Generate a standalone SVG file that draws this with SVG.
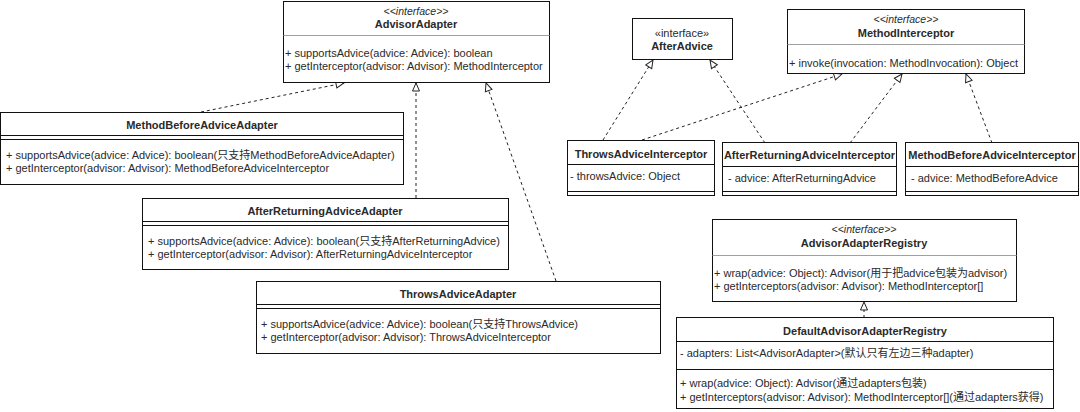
<svg xmlns="http://www.w3.org/2000/svg" width="1080" height="412" viewBox="0 0 1080 412">
<style>
.box{fill:#fff;stroke:#111;stroke-width:1}
.sep{stroke:#111;stroke-width:1}
.lsep{stroke:#a0a0a0;stroke-width:1}
text{font-family:"Liberation Sans","Noto Sans CJK SC",sans-serif;font-size:11px;fill:#2a2a2a}
.t{font-weight:bold;text-anchor:middle}
.st{font-style:italic;text-anchor:middle;font-size:10.5px}
.gt{text-anchor:middle}
.edge{fill:none;stroke:#222;stroke-width:1;stroke-dasharray:3 3}
.tri{fill:#fff;stroke:#222;stroke-width:1;stroke-dasharray:none}
</style>
<defs>
<marker id="real" viewBox="0 0 10 10" refX="9" refY="5" markerWidth="10" markerHeight="10" markerUnits="userSpaceOnUse" orient="auto">
<path class="tri" d="M1,1.5 L9,5 L1,8.5 Z"/>
</marker>
</defs>
<rect width="1080" height="412" fill="#fff"/>

<g id="connectors">
<path class="edge" d="M201,112 L344,83" marker-end="url(#real)"/>
<path class="edge" d="M416,198 L416,83" marker-end="url(#real)"/>
<path class="edge" d="M556,281 L486,83" marker-end="url(#real)"/>
<path class="edge" d="M603,140 L653,60" marker-end="url(#real)"/>
<path class="edge" d="M642,140 L842,74" marker-end="url(#real)"/>
<path class="edge" d="M765,143 L710,60" marker-end="url(#real)"/>
<path class="edge" d="M850,143 L902,74" marker-end="url(#real)"/>
<path class="edge" d="M992,143 L966,74" marker-end="url(#real)"/>
<path class="edge" d="M864,318 L864,302" marker-end="url(#real)"/>
</g>

<g id="AdvisorAdapter">
<rect class="box" x="283.5" y="1.5" width="266" height="81"/>
<text class="st" x="416" y="15">&lt;&lt;interface&gt;&gt;</text>
<text class="t" x="416" y="28">AdvisorAdapter</text>
<line class="lsep" x1="283.5" y1="35.5" x2="549.5" y2="35.5"/>
<text x="285" y="57">+ supportsAdvice(advice: Advice): boolean</text>
<text x="285" y="70">+ getInterceptor(advisor: Advisor): MethodInterceptor</text>
</g>

<g id="MethodBeforeAdviceAdapter">
<rect class="box" x="0.5" y="112.5" width="403" height="72"/>
<text class="t" x="202" y="129">MethodBeforeAdviceAdapter</text>
<line class="sep" x1="0.5" y1="135.5" x2="403.5" y2="135.5"/>
<line class="sep" x1="0.5" y1="139.5" x2="403.5" y2="139.5"/>
<text x="6" y="159">+ supportsAdvice(advice: Advice): boolean(只支持MethodBeforeAdviceAdapter)</text>
<text x="6" y="172">+ getInterceptor(advisor: Advisor): MethodBeforeAdviceInterceptor</text>
</g>

<g id="AfterReturningAdviceAdapter">
<rect class="box" x="142.5" y="198.5" width="366" height="71"/>
<text class="t" x="325" y="215">AfterReturningAdviceAdapter</text>
<line class="sep" x1="142.5" y1="221.5" x2="508.5" y2="221.5"/>
<line class="sep" x1="142.5" y1="225.5" x2="508.5" y2="225.5"/>
<text x="148" y="245">+ supportsAdvice(advice: Advice): boolean(只支持AfterReturningAdvice)</text>
<text x="148" y="258">+ getInterceptor(advisor: Advisor): AfterReturningAdviceInterceptor</text>
</g>

<g id="ThrowsAdviceAdapter">
<rect class="box" x="256.5" y="281.5" width="404" height="72"/>
<text class="t" x="458" y="298">ThrowsAdviceAdapter</text>
<line class="sep" x1="256.5" y1="304.5" x2="660.5" y2="304.5"/>
<line class="sep" x1="256.5" y1="308.5" x2="660.5" y2="308.5"/>
<text x="261" y="328">+ supportsAdvice(advice: Advice): boolean(只支持ThrowsAdvice)</text>
<text x="261" y="341">+ getInterceptor(advisor: Advisor): ThrowsAdviceInterceptor</text>
</g>

<g id="AfterAdvice">
<rect class="box" x="632.5" y="18.5" width="100" height="41"/>
<text class="gt" x="682" y="37">«interface»</text>
<text class="t" x="682" y="50">AfterAdvice</text>
</g>

<g id="MethodInterceptor">
<rect class="box" x="787.5" y="9.5" width="237" height="64"/>
<text class="st" x="906" y="23">&lt;&lt;interface&gt;&gt;</text>
<text class="t" x="906" y="37">MethodInterceptor</text>
<line class="lsep" x1="787.5" y1="44.5" x2="1024.5" y2="44.5"/>
<text x="789" y="67">+ invoke(invocation: MethodInvocation): Object</text>
</g>

<g id="ThrowsAdviceInterceptor">
<rect class="box" x="567.5" y="140.5" width="147" height="55"/>
<text class="t" x="641" y="158">ThrowsAdviceInterceptor</text>
<line class="sep" x1="567.5" y1="164.5" x2="714.5" y2="164.5"/>
<text x="570" y="180">- throwsAdvice: Object</text>
<line class="sep" x1="567.5" y1="191.5" x2="714.5" y2="191.5"/>
</g>

<g id="AfterReturningAdviceInterceptor">
<rect class="box" x="722.5" y="142.5" width="174" height="53"/>
<text class="t" x="809.5" y="159">AfterReturningAdviceInterceptor</text>
<line class="sep" x1="722.5" y1="166.5" x2="896.5" y2="166.5"/>
<text x="728" y="182">- advice: AfterReturningAdvice</text>
<line class="sep" x1="722.5" y1="191.5" x2="896.5" y2="191.5"/>
</g>

<g id="MethodBeforeAdviceInterceptor">
<rect class="box" x="905.5" y="142.5" width="173" height="53"/>
<text class="t" x="992" y="159">MethodBeforeAdviceInterceptor</text>
<line class="sep" x1="905.5" y1="166.5" x2="1078.5" y2="166.5"/>
<text x="911" y="182">- advice: MethodBeforeAdvice</text>
<line class="sep" x1="905.5" y1="191.5" x2="1078.5" y2="191.5"/>
</g>

<g id="AdvisorAdapterRegistry">
<rect class="box" x="712.5" y="219.5" width="304" height="82"/>
<text class="st" x="864" y="233">&lt;&lt;interface&gt;&gt;</text>
<text class="t" x="864" y="247">AdvisorAdapterRegistry</text>
<line class="lsep" x1="712.5" y1="255.5" x2="1016.5" y2="255.5"/>
<text x="714" y="277">+ wrap(advice: Object): Advisor(用于把advice包装为advisor)</text>
<text x="714" y="290">+ getInterceptors(advisor: Advisor): MethodInterceptor[]</text>
</g>

<g id="DefaultAdvisorAdapterRegistry">
<rect class="box" x="676.5" y="317.5" width="377" height="91"/>
<text class="t" x="865" y="335">DefaultAdvisorAdapterRegistry</text>
<line class="sep" x1="676.5" y1="341.5" x2="1053.5" y2="341.5"/>
<text x="680" y="357">- adapters: List&lt;AdvisorAdapter&gt;(默认只有左边三种adapter)</text>
<line class="sep" x1="676.5" y1="369.5" x2="1053.5" y2="369.5"/>
<text x="680" y="387">+ wrap(advice: Object): Advisor(通过adapters包装)</text>
<text x="680" y="401">+ getInterceptors(advisor: Advisor): MethodInterceptor[](通过adapters获得)</text>
</g>
</svg>
